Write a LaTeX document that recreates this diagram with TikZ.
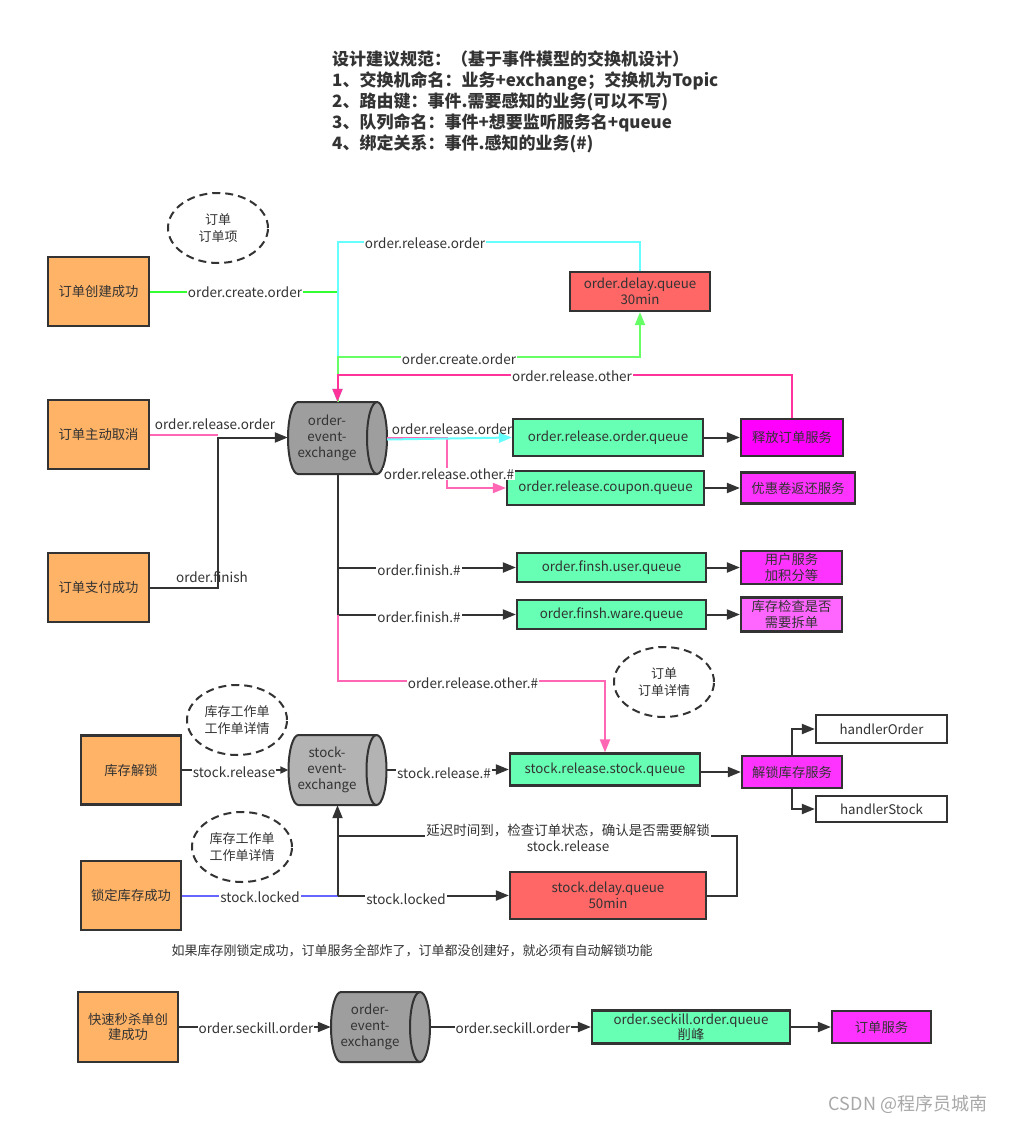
\documentclass[tikz,border=0pt]{standalone}
\usepackage{fontspec}
\setmainfont{Noto Sans CJK SC}
\usetikzlibrary{arrows.meta,calc,shapes.geometric}
\definecolor{linec}{HTML}{333333}
\definecolor{orangec}{HTML}{FFB366}
\definecolor{mintc}{HTML}{66FFB3}
\definecolor{magA}{HTML}{FF00FF}
\definecolor{magB}{HTML}{FF33FF}
\definecolor{magC}{HTML}{FF66FF}
\definecolor{redc}{HTML}{FF6666}
\definecolor{grayA}{HTML}{9E9E9E}
\definecolor{grayB}{HTML}{B3B3B3}
\definecolor{greenA}{HTML}{33FF33}
\definecolor{greenB}{HTML}{66FF66}
\definecolor{cyanc}{HTML}{66FFFF}
\definecolor{pinkA}{HTML}{FF3399}
\definecolor{pinkB}{HTML}{FF66B3}
\definecolor{bluec}{HTML}{6666FF}
\definecolor{wmc}{HTML}{A8A8A8}
\newcommand\lfont{\fontsize{13.5pt}{16pt}\selectfont}
\newcommand\bfont{\fontsize{13.3pt}{15.5pt}\selectfont}
% L R T B ry fill
\newcommand\drawcyl[6]{%
  \filldraw[draw=linec,line width=2pt,fill=#6] ({#1+10},#3) -- ({#2-10},#3)
    arc[start angle=90,end angle=-90,x radius=10pt,y radius=#5pt] -- ({#1+10},#4)
    arc[start angle=270,end angle=90,x radius=10pt,y radius=#5pt] -- cycle;
  \draw[draw=linec,line width=2pt] ({#2-10},#3) arc[start angle=90,end angle=270,x radius=10pt,y radius=#5pt];
}
\begin{document}
\begin{tikzpicture}[x=1pt,y=-1pt,
  box/.style={draw=linec,line width=2.2pt,inner sep=1pt,align=center,text=linec,font=\bfont},
  ell/.style={ellipse,draw=linec,line width=2pt,dash pattern=on 8pt off 5pt,minimum width=100pt,minimum height=70pt,inner sep=0pt,align=center,text=linec,font=\fontsize{13pt}{17pt}\selectfont},
  lbl/.style={fill=white,inner sep=1pt,text=linec,font=\lfont},
  plain/.style={inner sep=1pt,text=linec,font=\lfont},
  conn/.style={draw=linec,line width=2pt},
  arr/.style={-{Triangle[length=13pt,width=10pt]}},
  exnode/.style={inner sep=0pt},
  extext/.style={align=center,text=linec,font=\fontsize{13.3pt}{16pt}\selectfont},
  ]
\fill[white] (0,0) rectangle (1009,1124);
\useasboundingbox (0,0) rectangle (1009,1124);

% title
\node[anchor=north west,align=left,text=linec,font=\fontsize{17pt}{21pt}\selectfont\bfseries,inner sep=0pt] (title) at (332,51)
{设计建议规范：（基于事件模型的交换机设计）\\
1、交换机命名：业务+exchange；交换机为Topic\\
2、路由键：事件.需要感知的业务(可以不写)\\
3、队列命名：事件+想要监听服务名+queue\\
4、绑定关系：事件.感知的业务(\#)};

% ellipses
\node[ell] (e1) at (218,228) {订单\\订单项};
\node[ell] (e2) at (664,682) {订单\\订单详情};
\node[ell] (e3) at (237,720) {库存工作单\\工作单详情};
\node[ell] (e4) at (242,847) {库存工作单\\工作单详情};

% source boxes
\node[box,fill=orangec,minimum width=101pt,minimum height=69pt] (c1) at (98.5,291.5) {订单创建成功};
\node[box,fill=orangec,minimum width=101pt,minimum height=69pt] (c2) at (98.5,434.5) {订单主动取消};
\node[box,fill=orangec,minimum width=101pt,minimum height=69pt] (c3) at (98.5,587.5) {订单支付成功};
\node[box,fill=orangec,minimum width=100pt,minimum height=69pt] (s1) at (131,770) {库存解锁};
\node[box,fill=orangec,minimum width=100pt,minimum height=69pt] (s2) at (131,895.5) {锁定库存成功};
\node[box,fill=orangec,minimum width=100pt,minimum height=70pt] (c4) at (128,1027) {快速秒杀单创\\建成功};

% exchanges
\drawcyl{288}{387}{402}{474}{36}{grayA}
\node[exnode,minimum width=99pt,minimum height=72pt] (ex1) at (337.5,438) {};
\node[extext] (ex1t) at (327,438) {order-\\event-\\exchange};
\drawcyl{288.5}{386.5}{735}{805}{35}{grayB}
\node[exnode,minimum width=98pt,minimum height=70pt] (ex2) at (337.5,770) {};
\node[extext] (ex2t) at (327,770) {stock-\\event-\\exchange};
\drawcyl{331}{430}{992}{1062}{35}{grayA}
\node[exnode,minimum width=99pt,minimum height=70pt] (ex3) at (380.5,1027) {};
\node[extext] (ex3t) at (370,1027) {order-\\event-\\exchange};

% queues
\node[box,fill=redc,minimum width=140pt,minimum height=39pt] (q1) at (640,291.5) {order.delay.queue\\30min};
\node[box,fill=mintc,minimum width=190pt,minimum height=37pt] (q2) at (608,437.5) {order.release.order.queue};
\node[box,fill=mintc,minimum width=197pt,minimum height=34pt] (q3) at (605.5,488) {order.release.coupon.queue};
\node[box,fill=mintc,minimum width=189pt,minimum height=29pt] (q4) at (611.5,567.5) {order.finsh.user.queue};
\node[box,fill=mintc,minimum width=189pt,minimum height=29pt] (q5) at (611.5,614.5) {order.finsh.ware.queue};
\node[box,fill=mintc,minimum width=190pt,minimum height=32pt] (q6) at (605,769.5) {stock.release.stock.queue};
\node[box,fill=redc,minimum width=196pt,minimum height=47pt] (q7) at (608,895.5) {stock.delay.queue\\50min};
\node[box,fill=mintc,minimum width=198pt,minimum height=33pt] (q8) at (691,1027) {order.seckill.order.queue\\削峰};

% services
\node[box,fill=magA,minimum width=102pt,minimum height=37pt] (sv1) at (792,437.5) {释放订单服务};
\node[box,fill=magB,minimum width=114pt,minimum height=31pt] (sv2) at (798,488) {优惠卷返还服务};
\node[box,fill=magB,minimum width=101pt,minimum height=33pt] (sv3) at (791.5,567.5) {用户服务\\加积分等};
\node[box,fill=magC,minimum width=101pt,minimum height=34pt] (sv4) at (791.5,614.5) {库存检查是否\\需要拆单};
\node[box,fill=magB,minimum width=100pt,minimum height=32pt] (sv5) at (792,772) {解锁库存服务};
\node[box,fill=white,minimum width=131pt,minimum height=28pt] (h1) at (881.5,729) {handlerOrder};
\node[box,fill=white,minimum width=131pt,minimum height=26pt] (h2) at (881.5,809) {handlerStock};
\node[box,fill=magB,minimum width=99pt,minimum height=32pt] (sv6) at (881.5,1027) {订单服务};

% coordinates
\coordinate (tc) at (337.5,242);
\coordinate (gc) at (337.5,357);
\coordinate (pc) at (337.5,375);
\coordinate (j1) at (218,437.5);
\coordinate (pk1) at (447,488);
\coordinate (pk2) at (337.5,681);
\coordinate (lp) at (737,836);

% top connectors
\draw[greenA,line width=2pt] (c1.east) -- (c1.east -| tc);
\draw[cyanc,line width=2pt,arr] (q1.north) |- (tc) -- (ex1.north);
\draw[greenB,line width=2pt,arr] (ex1.north) -- (gc) -| (q1.south);
\draw[pinkA,line width=2pt,arr] (sv1.north) |- (pc) -- (ex1.north);

% left connectors
\draw[pinkB,line width=2pt] (c2.east) -- (c2.east -| j1);
\draw[conn,arr] (c3.east) -| (j1) -- (j1 -| ex1.west);

% exchange 1 outputs
\draw[pinkB,line width=2pt,arr] (ex1.east) -| (pk1) -- (q3.west);
\draw[cyanc,line width=2pt,arr] ([yshift=-1.5pt]ex1.east) -- (q2.west);
\draw[conn,arr] (q2.east) -- (sv1.west);
\draw[conn,arr] (q3.east) -- (sv2.west);
\draw[conn] (ex1.south) -- (ex1.south |- q5.west);
\draw[conn,arr] (ex1.south |- q4.west) -- (q4.west);
\draw[conn,arr] (ex1.south |- q5.west) -- (q5.west);
\draw[conn,arr] (q4.east) -- (sv3.west);
\draw[conn,arr] (q5.east) -- (sv4.west);
\draw[pinkB,line width=2pt,arr] (ex1.south |- q5.west) -- (pk2) -| (q6.north);

% stock
\draw[conn,-{Triangle[length=8pt,width=7pt]}] (s1.east) -- (s1.east -| ex2.west);
\draw[conn,arr] (ex2.east |- q6.west) -- (q6.west);
\draw[conn,arr] (q6.east |- sv5.west) -- (sv5.west);
\draw[conn,arr] (sv5.north) |- (h1.west);
\draw[conn,arr] (sv5.south) |- (h2.west);
\draw[bluec,line width=2pt] (s2.east) -- (s2.east -| ex2.south);
\draw[conn,arr] (s2.east -| ex2.south) -- (ex2.south);
\draw[conn,arr] (s2.east -| ex2.south) -- (q7.west);
\draw[conn] (q7.east) -| (lp) -- (lp -| ex2.south);

% bottom row
\draw[conn,arr] (c4.east) -- (ex3.west);
\draw[conn,arr] (ex3.east) -- (q8.west);
\draw[conn,arr] (q8.east) -- (sv6.west);

% labels
\node[lbl] (l1) at (245,292) {order.create.order};
\node[lbl] (l2) at (425,243) {order.release.order};
\node[lbl] (l3) at (459,359) {order.create.order};
\node[lbl] (l4) at (572,376) {order.release.other};
\node[plain] (l5) at (215,424) {order.release.order};
\node[plain] (l6) at (212,577) {order.finish};
\node[plain] (l7) at (452,429) {order.release.order};
\node[lbl] (l8) at (449,474) {order.release.other.\#};
\node[lbl] (l9) at (419,570) {order.finish.\#};
\node[lbl] (l10) at (419,617) {order.finish.\#};
\node[lbl] (l11) at (473,683) {order.release.other.\#};
\node[lbl] (l12) at (234,772) {stock.release};
\node[lbl] (l13) at (444,773) {stock.release.\#};
\node[lbl] (l14) at (260,897) {stock.locked};
\node[lbl] (l15) at (406,899) {stock.locked};
\node[lbl] (l16) at (568,830) {延迟时间到，检查订单状态，确认是否需要解锁};
\node[lbl] (l17) at (568,846) {stock.release};
\node[lbl] (l18) at (256,1028) {order.seckill.order};
\node[lbl] (l19) at (513,1028) {order.seckill.order};

\node[text=linec,font=\fontsize{13pt}{15pt}\selectfont] (note) at (412,951) {如果库存刚锁定成功，订单服务全部炸了，订单都没创建好，就必须有自动解锁功能};
\node[text=wmc,font=\fontsize{18pt}{20pt}\selectfont] (wm) at (908,1104) {CSDN @程序员城南};
\end{tikzpicture}
\end{document}
